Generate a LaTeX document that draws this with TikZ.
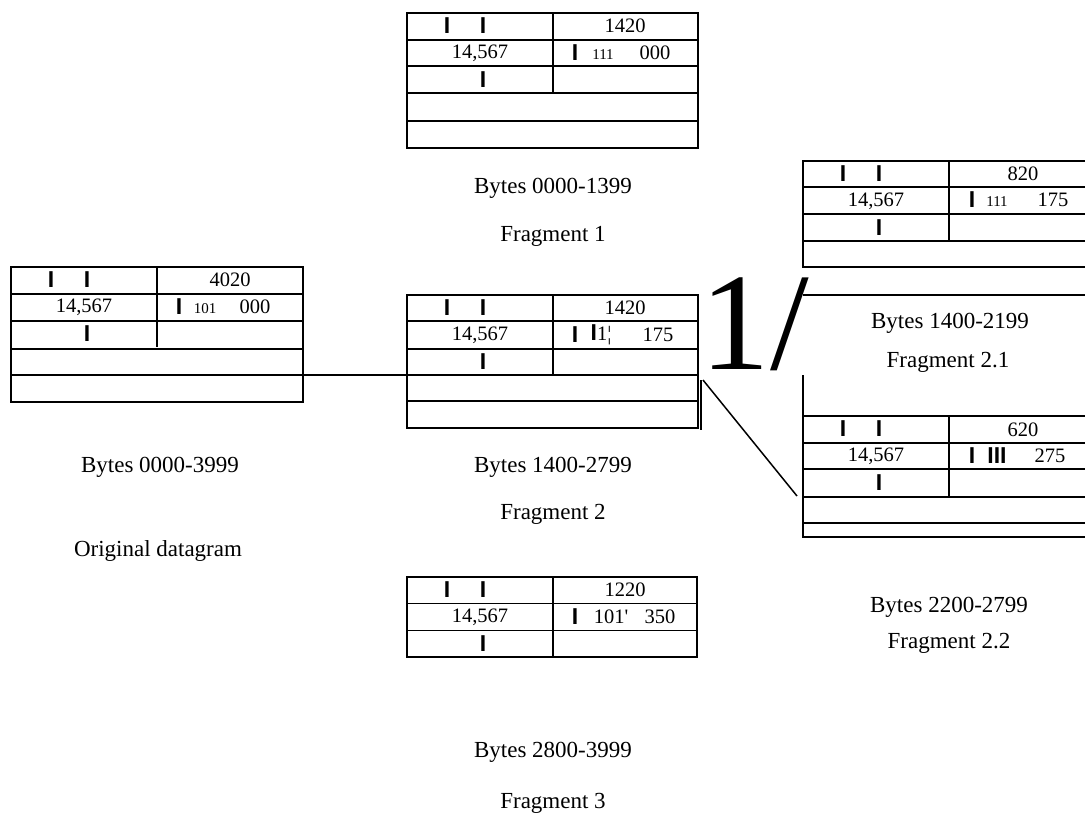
\documentclass[tikz,border=0pt]{standalone}
\usepackage{fontspec}
\setmainfont{Liberation Serif}
\newfontfamily\barfont{Liberation Sans}
\usetikzlibrary{positioning,calc}

% thick flag bar
\newcommand\tbar{{\barfont\bfseries\fontsize{23}{23}\selectfont I}}
% divider and common fields of the first three header rows
\newcommand\hdrrows[3]{%
  \draw (#2+146,#3) -- (#2+146,#3+80);
  \node (#1-b1) at (#2+40,#3+13) {\tbar};
  \node (#1-b2) at (#2+76,#3+13) {\tbar};
  \node (#1-id) at (#2+73,#3+40) {14,567};
  \node (#1-b3) at (#2+76,#3+67) {\tbar};
}

\begin{document}
\begin{tikzpicture}[x=1pt, y=-1pt, line width=1.5pt,
    every node/.style={inner sep=0pt, font=\fontsize{20.5}{24}\selectfont},
    lbl/.style={font=\fontsize{23}{27}\selectfont},
    tiny/.style={font=\fontsize{15}{18}\selectfont}]
  \useasboundingbox (0,0) rectangle (1085,815);

  % original datagram
  \draw (11,267) rectangle (303,402);
  \foreach \y in {294,321,349,375} \draw (11,\y) -- (303,\y);
  \hdrrows{og}{11}{267}
  \node (og-len) at (230,280) {4020};
  \node (og-fl) at (179,307) {\tbar};
  \node[tiny] (og-mf) at (205,309) {101};
  \node (og-off) at (255,307) {000};
  \node[lbl] (og-bytes) at (160,467) {Bytes 0000-3999};
  \node[lbl] (og-name) at (158,551) {Original datagram};

  % fragment 1
  \draw (407,13) rectangle (698,148);
  \foreach \y in {40,66,93,121} \draw (407,\y) -- (698,\y);
  \hdrrows{f1}{407}{13}
  \node (f1-len) at (625,26) {1420};
  \node (f1-fl) at (575,53) {\tbar};
  \node[tiny] (f1-mf) at (603,55) {111};
  \node (f1-off) at (655,53) {000};
  \node[lbl] (f1-bytes) at (553,188) {Bytes 0000-1399};
  \node[lbl] (f1-name) at (553,236) {Fragment 1};

  % fragment 2
  \draw (407,295) rectangle (698,428);
  \foreach \y in {321,349,375,401} \draw (407,\y) -- (698,\y);
  \hdrrows{f2}{407}{295}
  \node (f2-len) at (625,308) {1420};
  \node (f2-fl) at (575,335) {\tbar};
  \node (f2-mf) at (601,335) {\tbar1¦};
  \node (f2-off) at (658,335) {175};
  \coordinate (f2-edge) at (701,380);
  \coordinate (f2-edge-end) at (701,430);
  \draw (f2-edge) -- (f2-edge-end);
  \node[lbl] (f2-bytes) at (553,467) {Bytes 1400-2799};
  \node[lbl] (f2-name) at (553,514) {Fragment 2};

  % original -> fragment 2
  \coordinate (og-out) at (303,375);
  \coordinate (f2-in) at (407,375);
  \draw (og-out) -- (f2-in);

  % fragment 2.1, runs off the right edge
  \draw (1085,161) -- (803,161) -- (803,267) -- (1085,267);
  \foreach \y in {187,214,241} \draw (803,\y) -- (1085,\y);
  \hdrrows{fa}{803}{161}
  \node (fa-len) at (1023,174) {820};
  \node (fa-fl) at (972,200) {\tbar};
  \node[tiny] (fa-mf) at (997,202) {111};
  \node (fa-off) at (1053,200) {175};
  \draw (803,295) -- (1085,295);
  \node[lbl] (fa-bytes) at (950,323) {Bytes 1400-2199};
  \node[lbl] (fa-name) at (948,362) {Fragment 2.1};

  \node[font=\fontsize{139}{139}\selectfont] (split) at (755,324) {1/};

  % fragment 2.2
  \draw (803,375) -- (803,537) -- (1085,537);
  \foreach \y in {416,443,469,497,523} \draw (803,\y) -- (1085,\y);
  \hdrrows{fb}{803}{416}
  \node (fb-len) at (1023,430) {620};
  \node (fb-fl) at (972,456) {\tbar};
  \node (fb-mf) at (997,456) {\tbar\tbar\tbar};
  \node (fb-off) at (1050,456) {275};
  \node[lbl] (fb-bytes) at (949,607) {Bytes 2200-2799};
  \node[lbl] (fb-name) at (949,643) {Fragment 2.2};

  % fragment 2 -> fragment 2.2
  \coordinate (f2-split) at (703,380);
  \coordinate (fb-in) at (797,496);
  \draw (f2-split) -- (fb-in);

  % fragment 3
  \draw (407,577) rectangle (697,657);
  \foreach \y in {603.7,630.3} \draw (407,\y) -- (697,\y);
  \hdrrows{f3}{407}{577}
  \node (f3-len) at (625,590) {1220};
  \node (f3-fl) at (575,617) {\tbar};
  \node (f3-mf) at (611,617) {101\textquotesingle};
  \node (f3-off) at (660,617) {350};
  \node[lbl] (f3-bytes) at (553,752) {Bytes 2800-3999};
  \node[lbl] (f3-name) at (553,803) {Fragment 3};
\end{tikzpicture}
\end{document}
